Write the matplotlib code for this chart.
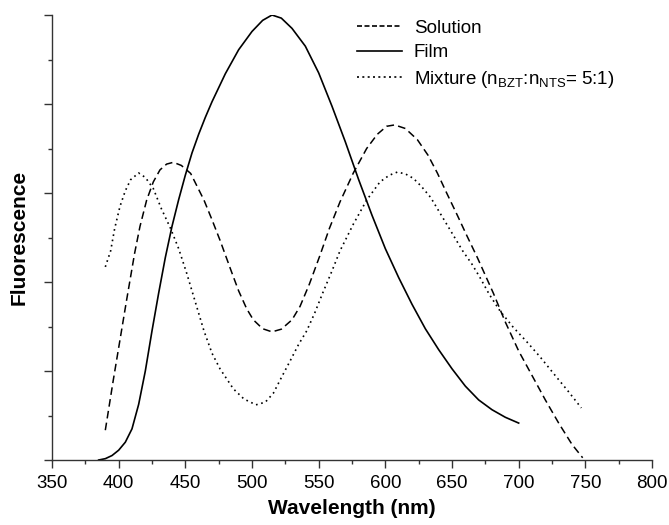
import numpy as np
import matplotlib
matplotlib.use("Agg")
from matplotlib import pyplot as plt
from matplotlib.ticker import MultipleLocator, NullFormatter

plt.rcParams['font.family'] = ['Liberation Sans', 'DejaVu Sans']
plt.rcParams['mathtext.fontset'] = 'custom'
plt.rcParams['mathtext.rm'] = 'Liberation Sans'
plt.rcParams['mathtext.it'] = 'Liberation Sans:italic'

# (normalised intensity, film peak = 1)
film_x = [385, 390, 395, 400, 405, 410, 415, 420, 425, 430, 435, 440, 445, 450,
          455, 460, 465, 470, 480, 490, 500, 508, 515, 522, 530, 540, 550, 560,
          570, 580, 590, 600, 610, 620, 630, 640, 650, 660, 670, 680, 690, 700]
film_y = [0.0, 0.003, 0.010, 0.022, 0.040, 0.070, 0.125, 0.200, 0.290, 0.375, 0.455,
          0.525, 0.585, 0.640, 0.690, 0.732, 0.770, 0.805, 0.868, 0.922, 0.963,
          0.988, 1.0, 0.993, 0.970, 0.930, 0.870, 0.795, 0.715, 0.630, 0.550,
          0.475, 0.410, 0.350, 0.295, 0.248, 0.205, 0.166, 0.135, 0.113, 0.096, 0.083]

sol_x = [390, 396, 400, 406, 412, 416, 421, 426, 431, 436, 441, 447, 454, 458,
         464, 470, 476, 485, 490, 496, 501, 508, 515, 522, 530, 536, 543, 551,
         558, 566, 576, 586, 594, 601, 607, 615, 624, 632, 639, 646, 654, 661,
         669, 675, 681, 690, 700, 710, 720, 730, 740, 748]
sol_y = [0.067, 0.18, 0.252, 0.36, 0.465, 0.525, 0.584, 0.625, 0.652, 0.665, 0.669,
         0.662, 0.644, 0.62, 0.584, 0.54, 0.494, 0.42, 0.38, 0.34, 0.315, 0.295,
         0.288, 0.294, 0.315, 0.345, 0.395, 0.46, 0.52, 0.58, 0.645, 0.70, 0.732,
         0.75, 0.753, 0.745, 0.72, 0.685, 0.645, 0.60, 0.55, 0.505, 0.455, 0.415,
         0.375, 0.31, 0.245, 0.19, 0.135, 0.083, 0.035, 0.005]

mix_x = [390, 394, 397, 401, 405, 409, 415, 420, 426, 432, 439, 445, 451, 458,
         464, 470, 476, 486, 494, 503, 510, 516, 522, 529, 535, 541, 547, 553, 560,
         566, 576, 586, 596, 603, 609, 615, 621, 627, 634, 640, 646, 652, 658,
         665, 671, 678, 686, 696, 706, 716, 726, 737, 747]
mix_y = [0.434, 0.47, 0.52, 0.57, 0.605, 0.63, 0.645, 0.635, 0.61, 0.565, 0.52,
         0.475, 0.42, 0.35, 0.29, 0.24, 0.205, 0.16, 0.137, 0.124, 0.13, 0.15, 0.185,
         0.225, 0.26, 0.29, 0.33, 0.375, 0.425, 0.47, 0.53, 0.584, 0.625, 0.64,
         0.647, 0.643, 0.633, 0.615, 0.59, 0.56, 0.53, 0.50, 0.47, 0.44, 0.41,
         0.372, 0.335, 0.298, 0.266, 0.232, 0.195, 0.155, 0.117]

labels = ['Solution', 'Film',
          r'Mixture (n$_{\mathrm{BZT}}$:n$_{\mathrm{NTS}}$= 5:1)']

fig = plt.figure(figsize=(6.69, 5.25), dpi=100)
ax = fig.add_axes([0.0777, 0.1238, 0.8969, 0.8476])

ax.plot(sol_x, sol_y, color='black', lw=1.1, linestyle=(0, (5, 2.8)), label=labels[0])
ax.plot(film_x, film_y, color='black', lw=1.2, linestyle='-', label=labels[1])
ax.plot(mix_x, mix_y, color='black', lw=1.2, linestyle=(0, (1, 2.2)), label=labels[2])

ax.set_xlim(350, 800)
ax.set_ylim(0, 1.0)
ax.xaxis.set_major_locator(MultipleLocator(50))
ax.xaxis.set_minor_locator(MultipleLocator(25))
ax.yaxis.set_major_locator(MultipleLocator(0.2))
ax.yaxis.set_minor_locator(MultipleLocator(0.1))
ax.yaxis.set_major_formatter(NullFormatter())

for s in ['top', 'right']:
    ax.spines[s].set_visible(False)
for s in ['left', 'bottom']:
    ax.spines[s].set_linewidth(1.0)
    ax.spines[s].set_color('#333333')

ax.tick_params(which='major', direction='out', length=6, width=1.0, color='#333333',
               labelsize=13.5, pad=5)
ax.tick_params(which='minor', direction='out', length=3, width=1.0, color='#333333')

ax.set_xlabel('Wavelength (nm)', fontsize=15, fontweight='bold', labelpad=5)
ax.set_ylabel('Fluorescence', fontsize=15, fontweight='bold', labelpad=6)

leg = ax.legend(loc='upper left', bbox_to_anchor=(0.508, 0.99), frameon=False,
                fontsize=13.5, handlelength=2.4, handletextpad=0.65,
                labelspacing=0.4, borderpad=0, borderaxespad=0)
handles = leg.get_lines()
for h in handles:
    h.set_linewidth(1.2)
handles[0].set_dashes((3.0, 1.5))
handles[2].set_dashes((1.2, 2.0))

fig.savefig('out.png', dpi=100)
